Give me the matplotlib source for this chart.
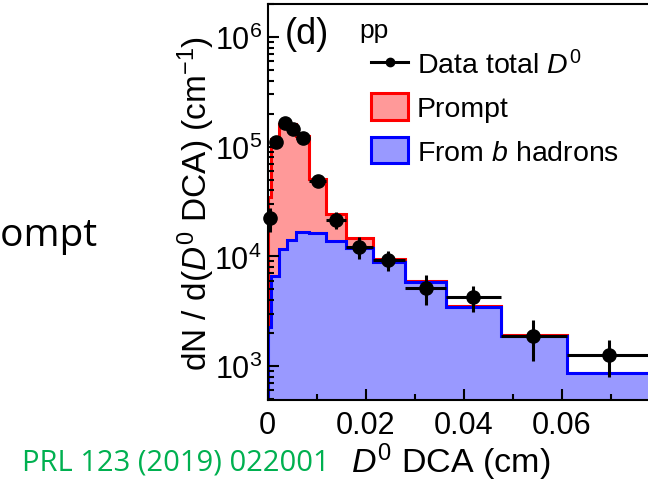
"""
D0 DCA distribution in pp: data vs prompt / non-prompt template fit.
"""

import numpy as np
import matplotlib
matplotlib.use('Agg')
import matplotlib.pyplot as plt
from matplotlib.lines import Line2D
from matplotlib.patches import Patch
from matplotlib.ticker import LogLocator, MultipleLocator, FixedLocator

# DCA bin edges (cm)
bin_edges = [0, 0.0008, 0.0024, 0.004, 0.0058, 0.0084, 0.012, 0.016,
             0.0216, 0.028, 0.0364, 0.0476, 0.0612, 0.08]

# Fit templates per bin: total (prompt + b) and the b-hadron part
total_fit = [3.5e4, 1.18e5, 1.61e5, 1.61e5, 1.25e5, 5.07e4, 2.43e4,
             1.47e4, 9.4e3, 6.0e3, 3.5e3, 1.9e3, 870]
from_b = [2.27e3, 6.6e3, 1.17e4, 1.41e4, 1.66e4, 1.64e4, 1.38e4,
          1.19e4, 8.9e3, 5.8e3, 3.45e3, 1.87e3, 863]

# Measured total D0 yield
data_x = [0.0005, 0.0017, 0.0036, 0.0052, 0.0072, 0.0103, 0.014,
          0.0187, 0.0246, 0.0323, 0.0419, 0.0542, 0.0697]
data_y = [2.23e4, 1.10e5, 1.64e5, 1.44e5, 1.20e5, 4.85e4, 2.14e4,
          1.22e4, 9.25e3, 5.14e3, 4.26e3, 1.87e3, 1.26e3]
data_err = [5.5e3, 1.1e4, 1.5e4, 1.3e4, 1.1e4, 5.0e3, 3.8e3,
            2.8e3, 1.85e3, 1.55e3, 1.15e3, 755, 470]

x_ticks = [0, 0.02, 0.04, 0.06]
x_tick_labels = ['0', '0.02', '0.04', '0.06']

plt.rcParams['font.family'] = ['Liberation Sans', 'DejaVu Sans']
plt.rcParams['mathtext.fontset'] = 'custom'
plt.rcParams['mathtext.rm'] = 'Liberation Sans'
plt.rcParams['mathtext.it'] = 'Liberation Sans:italic'
plt.rcParams['mathtext.bf'] = 'Liberation Sans:bold'

fig = plt.figure(figsize=(6.48, 4.85), dpi=100)
W, H = 648.0, 485.0
ax = fig.add_axes([267.5 / W, 1 - 401 / H, 1 - 267.5 / W, (401 - 5) / H])

# stacked templates: total in red, b part in blue on top
ax.stairs(total_fit, bin_edges, baseline=1, fill=True,
          facecolor='#ff9999', edgecolor='#ff0000', linewidth=2.2)
ax.stairs(from_b, bin_edges, baseline=1, fill=True,
          facecolor='#9999ff', edgecolor='#0000ff', linewidth=2.2)

# data points, x error = bin width
edges = np.array(bin_edges)
x = np.array(data_x)
xerr = [x - edges[:-1], edges[1:] - x]
ax.errorbar(x, data_y, yerr=data_err, xerr=xerr, fmt='o', color='black',
            markersize=9.5, elinewidth=2.2, capsize=0, clip_on=False, zorder=5)

ax.set_yscale('log')
ax.set_xlim(0, (648 - 267.5) / 4900)
ax.set_ylim(490, 2.0e6)

ax.xaxis.set_major_locator(FixedLocator(x_ticks))
ax.set_xticklabels(x_tick_labels)
ax.xaxis.set_minor_locator(MultipleLocator(0.01))
ax.yaxis.set_major_locator(LogLocator(base=10, numticks=10))
ax.yaxis.set_minor_locator(LogLocator(base=10, subs=np.arange(2, 10), numticks=10))

ax.tick_params(axis='both', which='both', direction='in', width=1.5,
               top=False, right=False)
ax.tick_params(axis='both', which='major', length=8, labelsize=22)
ax.tick_params(axis='both', which='minor', length=4.5)
ax.tick_params(axis='x', pad=7)
ax.tick_params(axis='y', pad=4)

for side in ['left', 'bottom', 'top']:
    ax.spines[side].set_linewidth(1.5)
ax.spines['right'].set_visible(False)

# axis titles
fig.text(196 / W, 1 - 203 / H, r'dN / d($D^{0}$ DCA) (cm$^{-1}$)',
         rotation=90, ha='center', va='center', fontsize=24)
fig.text(451 / W, 1 - 462 / H, r'$D^{0}$ DCA (cm)',
         ha='center', va='center', fontsize=24.5)

# panel label and system
fig.text(285 / W, 1 - 35 / H, '(d)', ha='left', va='center', fontsize=26)
fig.text(359 / W, 1 - 31 / H, 'pp', ha='left', va='center', fontsize=19)

handles = [
    Line2D([0], [0], color='black', marker='o', markersize=6, linewidth=2.2),
    Patch(facecolor='#ff9999', edgecolor='#ff0000', linewidth=2.2),
    Patch(facecolor='#9999ff', edgecolor='#0000ff', linewidth=2.2),
]
labels = [r'Data total $D^{0}$', 'Prompt', r'From $b$ hadrons']
fig.legend(handles, labels, loc='upper left',
           bbox_to_anchor=(371 / W, 1 - 51 / H), frameon=False,
           fontsize=20.5, borderpad=0, handlelength=1.3, handleheight=1.05,
           handletextpad=0.3, labelspacing=0.5, borderaxespad=0)

# slide text around the figure
fig.text(97 / W, 1 - 246 / H, 'Prompt', ha='right', va='baseline',
         fontsize=28, family='Open Sans')
fig.text(22 / W, 1 - 471 / H, 'PRL 123 (2019) 022001', ha='left',
         va='baseline', fontsize=21, color='#00b050', family='Open Sans')

fig.savefig('out.png', dpi=100)
